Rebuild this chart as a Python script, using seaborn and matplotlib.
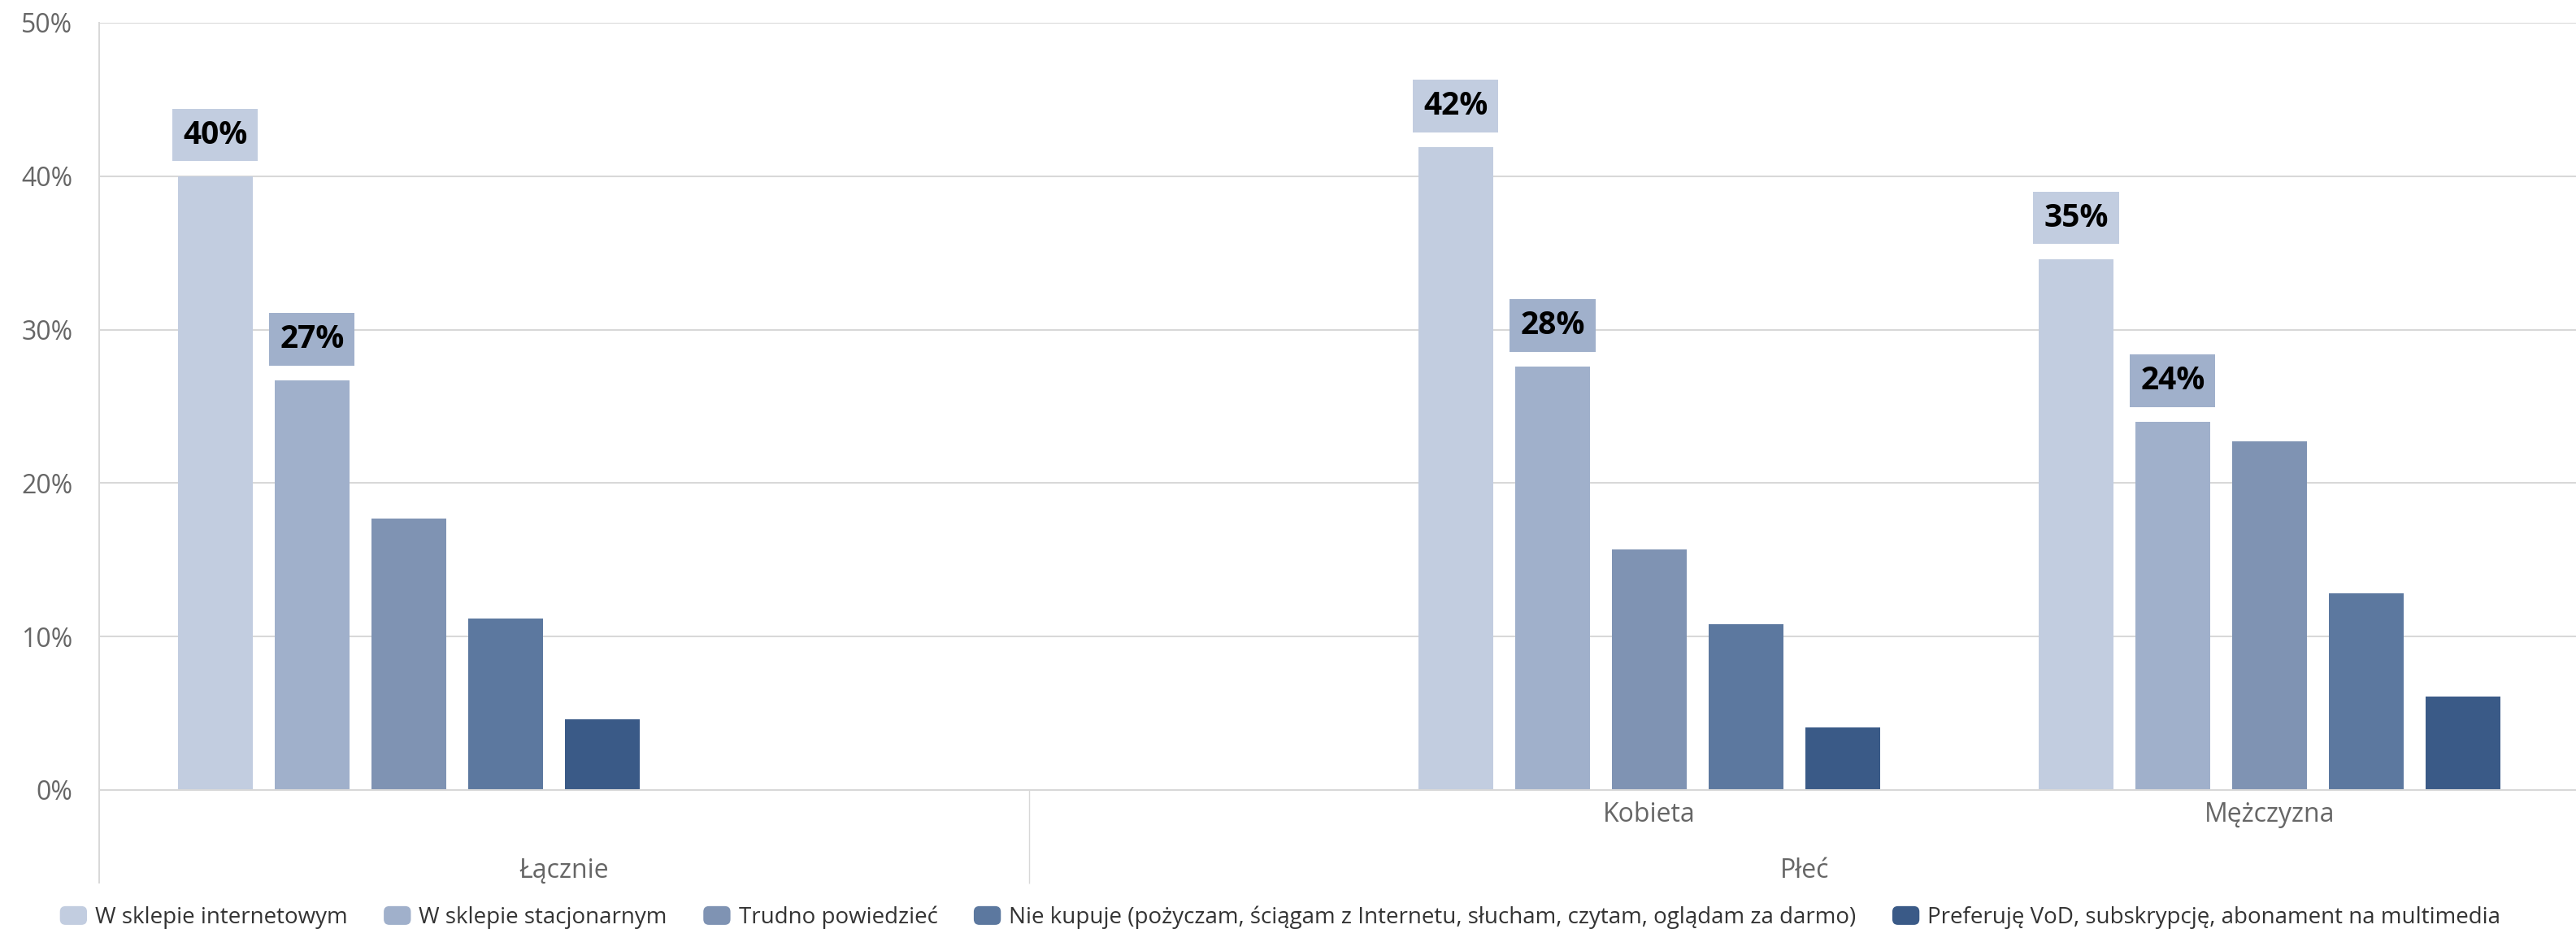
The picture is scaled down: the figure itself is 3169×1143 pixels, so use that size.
import matplotlib
matplotlib.use("Agg")
import matplotlib.pyplot as plt
import matplotlib.transforms as mtransforms
from matplotlib.patches import FancyBboxPatch, Patch
from matplotlib.legend_handler import HandlerPatch
import seaborn as sns
import pandas as pd

# ---- data -------------------------------------------------------------
categories = ["Łącznie", "Kobieta", "Mężczyzna"]
series_names = [
    "W sklepie internetowym",
    "W sklepie stacjonarnym",
    "Trudno powiedzieć",
    "Nie kupuje (pożyczam, ściągam z Internetu, słucham, czytam, oglądam za darmo)",
    "Preferuję VoD, subskrypcję, abonament na multimedia",
]
w_sklepie_internetowym = [40.0, 41.9, 34.6]
w_sklepie_stacjonarnym = [26.7, 27.6, 24.0]
trudno_powiedziec = [17.7, 15.7, 22.7]
nie_kupuje = [11.2, 10.8, 12.8]
preferuje_vod = [4.6, 4.1, 6.1]
series_values = [w_sklepie_internetowym, w_sklepie_stacjonarnym,
                 trudno_powiedziec, nie_kupuje, preferuje_vod]

groups = ["Łącznie", "Płeć"]
y_ticks = [0, 10, 20, 30, 40, 50]

colors = ["#C2CDE0", "#A0B0CB", "#7F93B3", "#5C789F", "#3A5A87"]
labelled_series = 2          # first two series carry value boxes

# ---- styling ----------------------------------------------------------
sns.set_style("white")
plt.rcParams["font.family"] = ["Open Sans", "DejaVu Sans"]
GRID = "#d8d8d8"
AXIS_TXT = "#666666"

rows = []
for name, vals in zip(series_names, series_values):
    for cat, v in zip(categories, vals):
        rows.append({"kategoria": cat, "seria": name, "wartość": v})
df = pd.DataFrame(rows)

W, H = 3169, 1143
fig = plt.figure(figsize=(W / 100, H / 100), dpi=100)
ax = fig.add_axes([121.5 / W, (H - 972) / H, 3052 / W, 944 / H])

# an empty slot separates the total from the gender breakdown
slot_order = ["Łącznie", " ", "Kobieta", "Mężczyzna"]

sns.barplot(data=df, x="kategoria", y="wartość", hue="seria",
            order=slot_order, hue_order=series_names, palette=colors,
            saturation=1, width=0.78, gap=0.23, errorbar=None,
            linewidth=0, legend=False, ax=ax)

ax.set_xlim(-0.5, 3.5)
ax.set_ylim(0, 50)
ax.set_axisbelow(True)
ax.yaxis.grid(True, color=GRID, linewidth=1.45)
ax.xaxis.grid(False)

ax.set_yticks(y_ticks)
ax.set_yticklabels([f"{t}%" for t in y_ticks])
ax.set_xticks([0, 2, 3])
ax.set_xticklabels(["", "Kobieta", "Mężczyzna"])
ax.set_xlabel("")
ax.set_ylabel("")

ax.tick_params(axis="y", length=9.0, width=1.4, color=GRID, pad=14,
               labelsize=23, labelcolor=AXIS_TXT)
ax.tick_params(axis="x", length=8, width=1, color=GRID, pad=2,
               labelsize=23, labelcolor=AXIS_TXT)

for side in ("top", "right"):
    ax.spines[side].set_visible(False)
ax.spines["left"].set_color(GRID)
ax.spines["left"].set_linewidth(1.4)
ax.spines["bottom"].set_color(GRID)
ax.spines["bottom"].set_linewidth(1.5)

# group dividers under the category axis
blend = mtransforms.blended_transform_factory(ax.transData, ax.transAxes)
for xs, lw in ((-0.5, 1.4), (1.0, 1.0)):
    ax.plot([xs, xs], [0, -0.1218], transform=blend, color=GRID,
            linewidth=lw, clip_on=False, solid_capstyle="butt")

# group labels
for name, xc in zip(groups, [0.25, 2.25]):
    ax.text(xc, -0.1145, name, transform=blend, ha="center", va="baseline",
            fontsize=23, color=AXIS_TXT)

# value boxes above the first two series
for i, cont in enumerate(ax.containers[:labelled_series]):
    for bar in cont:
        h = bar.get_height()
        if not h == h:
            continue
        xc = bar.get_x() + bar.get_width() / 2
        ax.annotate(f"{round(h):d}%", xy=(xc, h), xytext=(0, 36.5),
                    textcoords="offset points", ha="center", va="center",
                    fontsize=28, fontweight="bold", color="black",
                    bbox=dict(boxstyle="square,pad=0.33", fc=colors[i],
                              ec="none"))


class RoundedSquare(HandlerPatch):
    def create_artists(self, legend, orig_handle, xdescent, ydescent,
                       width, height, fontsize, trans):
        p = FancyBboxPatch((-xdescent, -ydescent), width, height,
                           boxstyle=f"round,pad=0,rounding_size={height * 0.3}",
                           fc=orig_handle.get_facecolor(), ec="none",
                           transform=trans)
        return [p]


handles = [Patch(facecolor=c, label=n) for c, n in zip(colors, series_names)]
fig.legend(handles=handles, loc="center", bbox_to_anchor=(0.497, 0.0125),
           ncol=5, frameon=False, fontsize=20, handlelength=1.2,
           handleheight=0.9, handletextpad=0.36, columnspacing=1.6,
           borderpad=0, labelcolor="#333333",
           handler_map={Patch: RoundedSquare()})

fig.savefig("out.png", dpi=100)
